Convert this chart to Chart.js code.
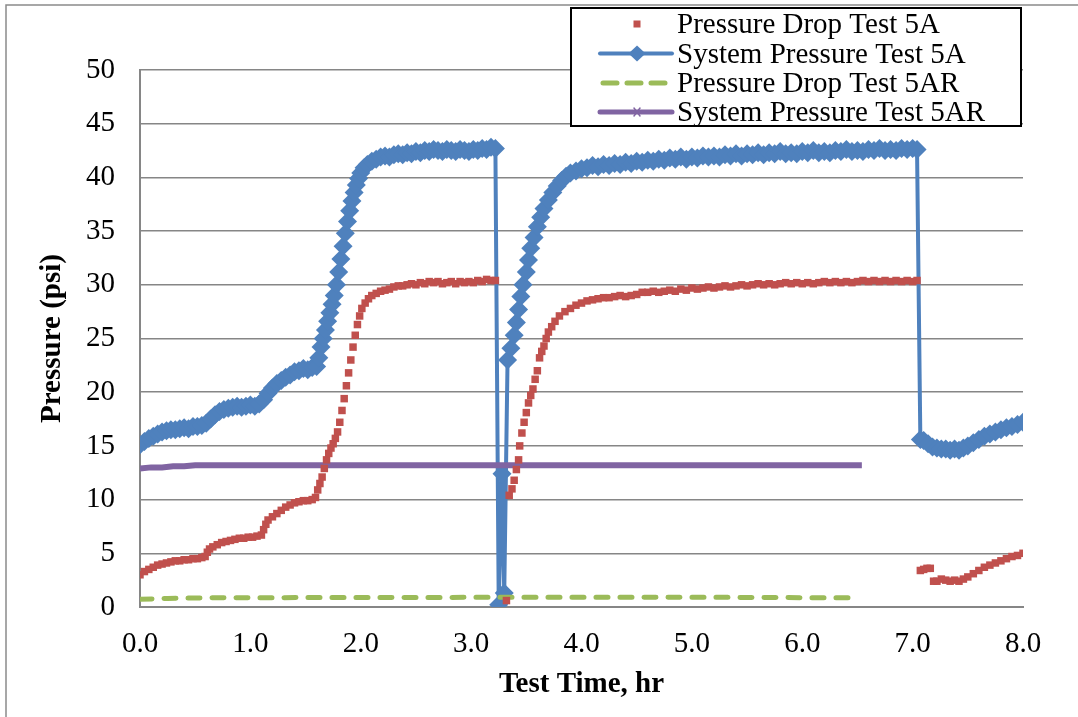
<!DOCTYPE html>
<html>
<head>
<meta charset="utf-8">
<script src="https://cdn.jsdelivr.net/npm/chart.js@4/dist/chart.umd.min.js"></script>
<style>
  html, body { margin: 0; padding: 0; background: #fff; }
  #wrap { position: relative; width: 1078px; height: 717px; }
</style>
</head>
<body>
<div id="wrap"><canvas id="c" width="1078" height="717"></canvas></div>
<script>
// ---------- DATA ----------
const seriesNames = ['Pressure Drop Test 5A', 'System Pressure Test 5A', 'Pressure Drop Test 5AR', 'System Pressure Test 5AR'];
const xTickLabels = ['0.0', '1.0', '2.0', '3.0', '4.0', '5.0', '6.0', '7.0', '8.0'];
const yTickLabels = ['0', '5', '10', '15', '20', '25', '30', '35', '40', '45', '50'];

// Pressure Drop Test 5A (psi) vs time (hr)
const pd5aTime = [
  0.00,0.04,0.08,0.12,0.16,0.20,0.24,0.28,0.32,0.36,0.40,0.44,0.48,0.52,0.56,0.59,0.61,0.63,0.66,0.70,
  0.74,0.78,0.82,0.86,0.90,0.94,0.98,1.02,1.06,1.10,1.12,1.14,1.16,1.20,1.24,1.28,1.32,1.36,1.40,1.44,
  1.48,1.52,1.56,1.59,1.61,1.63,1.65,1.67,1.69,1.71,1.73,1.75,1.77,1.79,1.81,1.83,1.85,1.87,1.89,1.91,
  1.93,1.95,1.97,1.99,2.01,2.04,2.07,2.10,2.14,2.18,2.22,2.26,2.30,2.34,2.38,2.42,2.46,2.50,2.54,2.58,
  2.62,2.66,2.70,2.74,2.78,2.82,2.86,2.90,2.94,2.98,3.02,3.06,3.10,3.14,3.18,3.22,
  3.32,
  3.345,3.37,3.39,3.41,3.43,3.44,3.46,3.48,3.50,3.52,3.54,3.56,3.58,3.60,3.62,3.64,3.66,3.68,3.70,3.73,
  3.76,3.80,3.85,3.90,3.95,4.00,4.05,4.10,4.15,4.20,4.25,4.30,4.35,4.40,4.45,4.50,4.55,4.60,4.65,4.70,
  4.75,4.80,4.85,4.90,4.95,5.00,5.05,5.10,5.15,5.20,5.25,5.30,5.35,5.40,5.45,5.50,5.55,5.60,5.65,5.70,
  5.75,5.80,5.85,5.90,5.95,6.00,6.05,6.10,6.15,6.20,6.25,6.30,6.35,6.40,6.45,6.50,6.55,6.60,6.65,6.70,
  6.75,6.80,6.85,6.90,6.95,7.00,7.04,
  7.07,7.10,7.13,7.16,
  7.19,7.22,7.26,7.30,7.34,7.38,7.42,7.46,7.50,7.55,7.60,7.65,7.70,7.75,7.80,7.85,7.90,7.95,8.00
];
const pd5aValue = [
  3.0,3.3,3.5,3.7,3.9,4.0,4.1,4.2,4.3,4.3,4.4,4.4,4.5,4.5,4.6,4.7,5.1,5.4,5.6,5.8,
  6.0,6.1,6.2,6.3,6.4,6.4,6.5,6.5,6.6,6.7,7.2,7.7,8.1,8.4,8.7,9.0,9.3,9.5,9.7,9.8,
  9.9,9.9,10.0,10.2,10.9,11.5,12.1,12.9,13.7,14.3,14.8,15.2,15.7,16.3,17.2,18.3,19.4,20.6,21.8,23.0,
  24.2,25.3,26.3,27.1,27.8,28.3,28.7,29.0,29.2,29.4,29.5,29.6,29.8,29.9,29.9,30.0,30.1,30.0,30.2,30.1,
  30.3,30.2,30.3,30.1,30.2,30.3,30.1,30.3,30.2,30.3,30.2,30.4,30.3,30.5,30.4,30.4,
  0.6,
  10.4,11.0,11.8,12.8,13.7,15.0,16.2,17.2,18.1,19.0,19.7,20.3,21.2,22.0,23.2,23.8,24.3,25.0,25.6,26.1,
  26.6,27.1,27.5,27.8,28.1,28.3,28.5,28.6,28.7,28.8,28.8,28.9,29.0,28.9,29.0,29.1,29.3,29.3,29.4,29.3,
  29.4,29.5,29.4,29.6,29.5,29.7,29.6,29.7,29.8,29.7,29.8,29.9,29.8,29.9,30.0,29.9,30.0,30.1,30.0,30.1,
  30.0,30.1,30.2,30.1,30.2,30.1,30.2,30.1,30.2,30.3,30.2,30.3,30.2,30.3,30.2,30.3,30.4,30.3,30.4,30.3,
  30.4,30.3,30.4,30.3,30.4,30.3,30.4,
  3.4,3.5,3.6,3.6,
  2.4,2.4,2.6,2.5,2.4,2.5,2.4,2.6,2.8,3.1,3.4,3.7,3.9,4.1,4.3,4.5,4.7,4.8,5.0
];

// System Pressure Test 5A (psi) vs time (hr)
const sp5aTime = [
  0.00,0.04,0.08,0.12,0.16,0.20,0.24,0.28,0.32,0.36,0.40,0.44,0.48,0.52,0.56,0.60,0.64,0.68,0.72,0.76,
  0.80,0.84,0.88,0.92,0.96,1.00,1.04,1.08,1.12,1.16,1.20,1.24,1.28,1.32,1.36,1.40,1.44,1.48,1.52,1.56,
  1.60,1.62,1.64,1.66,1.68,1.70,1.72,1.74,1.76,1.78,1.80,1.82,1.84,1.86,1.88,1.90,1.92,1.94,1.96,1.98,
  2.00,2.03,2.06,2.10,2.14,2.18,2.22,2.26,2.30,2.34,2.38,2.42,2.46,2.50,2.54,2.58,2.62,2.66,2.70,2.74,
  2.78,2.82,2.86,2.90,2.94,2.98,3.02,3.06,3.10,3.14,3.18,3.22,
  3.25,3.28,3.30,
  3.33,3.36,3.39,3.41,3.43,3.45,3.47,3.50,3.52,3.54,3.57,3.60,3.63,3.66,3.70,3.74,3.78,3.82,3.86,3.90,
  3.95,4.00,4.05,4.10,4.15,4.20,4.25,4.30,4.35,4.40,4.45,4.50,4.55,4.60,4.65,4.70,4.75,4.80,4.85,4.90,
  4.95,5.00,5.05,5.10,5.15,5.20,5.25,5.30,5.35,5.40,5.45,5.50,5.55,5.60,5.65,5.70,5.75,5.80,5.85,5.90,
  5.95,6.00,6.05,6.10,6.15,6.20,6.25,6.30,6.35,6.40,6.45,6.50,6.55,6.60,6.65,6.70,6.75,6.80,6.85,6.90,
  6.95,7.00,7.04,
  7.07,7.10,7.14,7.18,7.22,7.26,7.30,7.34,7.38,7.42,7.46,7.50,7.55,7.60,7.65,7.70,7.75,7.80,7.85,7.90,
  7.95,8.00
];
const sp5aValue = [
  15.1,15.4,15.7,15.9,16.1,16.3,16.4,16.5,16.5,16.6,16.7,16.6,16.8,16.8,16.9,17.1,17.5,17.9,18.2,18.4,
  18.5,18.6,18.7,18.6,18.7,18.8,18.7,18.9,19.3,19.9,20.4,20.8,21.1,21.4,21.6,21.9,22.0,22.2,22.1,22.3,
  22.4,23.2,24.2,25.0,25.8,26.6,27.4,28.2,29.0,30.0,31.2,32.4,33.6,34.8,35.9,36.9,37.8,38.6,39.3,39.9,
  40.4,40.9,41.2,41.5,41.7,41.9,42.0,41.9,42.1,42.2,42.1,42.3,42.2,42.4,42.3,42.5,42.4,42.6,42.5,42.4,
  42.6,42.5,42.4,42.6,42.5,42.4,42.6,42.5,42.7,42.6,42.8,42.7,
  0.2,12.4,1.3,
  23.0,24.1,25.3,26.5,27.7,28.9,30.0,31.2,32.3,33.4,34.4,35.4,36.3,37.1,37.9,38.6,39.2,39.7,40.1,40.4,
  40.6,40.8,40.9,41.1,41.0,41.2,41.1,41.3,41.2,41.4,41.3,41.5,41.4,41.6,41.5,41.7,41.6,41.8,41.7,41.9,
  41.7,41.9,41.8,42.0,41.9,42.0,41.9,42.1,42.0,42.2,42.0,42.2,42.1,42.3,42.1,42.3,42.2,42.4,42.2,42.3,
  42.2,42.4,42.3,42.5,42.3,42.4,42.3,42.5,42.4,42.6,42.4,42.5,42.4,42.6,42.5,42.7,42.5,42.6,42.5,42.7,
  42.6,42.7,42.6,
  15.6,15.5,15.2,14.9,14.8,14.7,14.7,14.6,14.7,14.6,14.8,15.0,15.3,15.6,15.9,16.1,16.3,16.5,16.7,16.8,
  17.0,17.2
];

// Pressure Drop Test 5AR (psi) vs time (hr)
const pd5arTime = [0.00,0.25,0.50,0.75,1.00,1.25,1.50,1.75,2.00,2.25,2.50,2.75,3.00,3.25,3.50,3.75,4.00,4.25,4.50,4.75,5.00,5.25,5.50,5.75,6.00,6.25,6.50];
const pd5arValue = [0.72,0.80,0.84,0.86,0.87,0.87,0.88,0.88,0.88,0.88,0.89,0.89,0.90,0.90,0.90,0.90,0.90,0.90,0.90,0.91,0.90,0.90,0.89,0.88,0.87,0.87,0.87];

// System Pressure Test 5AR (psi) vs time (hr)
const sp5arTime = [0.00,0.10,0.20,0.30,0.40,0.50,0.75,1.00,1.50,2.00,2.50,3.00,3.50,4.00,4.50,5.00,5.50,6.00,6.54];
const sp5arValue = [12.9,13.0,13.0,13.1,13.1,13.2,13.2,13.2,13.2,13.2,13.2,13.2,13.2,13.2,13.2,13.2,13.2,13.2,13.2];

// ---------- helpers ----------
function pts(t, v) { return t.map((x, i) => ({ x: x, y: v[i] })); }
const SERIF = "'Liberation Serif', 'Times New Roman', serif";
const FS = 29;
const GRID = '#868686';
const COLORS = ['#C0504D', '#4F81BD', '#9BBB59', '#8064A2'];

const bgPlugin = {
  id: 'bg',
  beforeDraw(chart) {
    const c = chart.ctx;
    c.save();
    c.fillStyle = '#fff';
    c.fillRect(0, 0, chart.width, chart.height);
    c.strokeStyle = '#8a8a8a';
    c.lineWidth = 1.5;
    c.strokeRect(6, 5, 1200, 800);
    c.restore();
  }
};

const legendPlugin = {
  id: 'boxLegend',
  afterDraw(chart) {
    const c = chart.ctx;
    const ds = chart.data.datasets;
    c.save();
    c.fillStyle = '#fff';
    c.fillRect(571, 8, 450, 118);
    c.strokeStyle = '#000';
    c.lineWidth = 2;
    c.strokeRect(571, 8, 450, 118);
    const baselines = [33, 62.5, 92, 121];
    const x0 = 600, x1 = 672, xm = 637;
    // row 1 - square marker
    let y = baselines[0] - 9;
    c.fillStyle = COLORS[0];
    c.fillRect(xm - 3.5, y - 3.5, 7, 7);
    // row 2 - line + diamond
    y = baselines[1] - 9;
    c.strokeStyle = COLORS[1]; c.lineWidth = 4; c.lineCap = 'round';
    c.beginPath(); c.moveTo(x0, y); c.lineTo(x1, y); c.stroke();
    c.fillStyle = COLORS[1];
    c.beginPath(); c.moveTo(xm - 8.5, y); c.lineTo(xm, y - 8); c.lineTo(xm + 8.5, y); c.lineTo(xm, y + 8); c.closePath(); c.fill();
    // row 3 - dashed
    y = baselines[2] - 9;
    c.strokeStyle = COLORS[2]; c.lineWidth = 5; c.lineCap = 'round';
    c.setLineDash([14, 10]);
    c.beginPath(); c.moveTo(x0 + 3, y); c.lineTo(x1, y); c.stroke();
    c.setLineDash([]);
    // row 4 - line + small cross
    y = baselines[3] - 9;
    c.strokeStyle = COLORS[3]; c.lineWidth = 5;
    c.beginPath(); c.moveTo(x0, y); c.lineTo(x1, y); c.stroke();
    c.lineWidth = 1.5;
    c.beginPath(); c.moveTo(xm - 3, y - 4); c.lineTo(xm + 3, y + 4); c.moveTo(xm + 3, y - 4); c.lineTo(xm - 3, y + 4); c.stroke();
    // texts
    c.fillStyle = '#000';
    c.font = FS + "px " + SERIF;
    c.textBaseline = 'alphabetic';
    c.textAlign = 'left';
    for (let i = 0; i < ds.length; i++) c.fillText(ds[i].label, 677, baselines[i]);
    c.restore();
  }
};

new Chart(document.getElementById('c'), {
  type: 'scatter',
  data: {
    datasets: [
      { label: seriesNames[0], data: pts(pd5aTime, pd5aValue), showLine: false,
        pointStyle: 'rect', pointRadius: 5.3, pointBackgroundColor: COLORS[0], pointBorderWidth: 0,
        borderColor: COLORS[0], backgroundColor: COLORS[0], order: 0 },
      { label: seriesNames[1], data: pts(sp5aTime, sp5aValue), showLine: true, borderColor: COLORS[1],
        borderWidth: 4, pointStyle: 'rectRot', pointRadius: 9.5, pointBackgroundColor: COLORS[1],
        pointBorderWidth: 0, backgroundColor: COLORS[1], order: 3 },
      { label: seriesNames[2], data: pts(pd5arTime, pd5arValue), showLine: true, borderColor: COLORS[2],
        borderWidth: 5, borderDash: [12, 12], borderCapStyle: 'round', pointRadius: 0, backgroundColor: COLORS[2], order: 1 },
      { label: seriesNames[3], data: pts(sp5arTime, sp5arValue), showLine: true, borderColor: COLORS[3],
        borderWidth: 6, pointRadius: 0, backgroundColor: COLORS[3], order: 2 }
    ]
  },
  options: {
    responsive: false,
    animation: false,
    devicePixelRatio: 1,
    layout: { padding: { left: 0, right: 55, top: 70, bottom: 0 } },
    plugins: { legend: { display: false }, tooltip: { enabled: false } },
    scales: {
      x: {
        type: 'linear', min: 0, max: 8,
        ticks: { stepSize: 1, maxRotation: 0, autoSkip: false, padding: 20, color: '#000',
                 font: { family: SERIF, size: FS },
                 callback: (v) => xTickLabels[Math.round(v)] },
        grid: { display: false, drawTicks: false },
        border: { display: true, color: GRID, width: 2 },
        title: { display: true, text: 'Test Time, hr', color: '#000',
                 font: { family: SERIF, size: FS, weight: 'bold' }, padding: { top: 0, bottom: 15 } },
        afterFit(s) { s.height = 110; }
      },
      y: {
        type: 'linear', min: 0, max: 50,
        ticks: { stepSize: 5, padding: 25, color: '#000', font: { family: SERIF, size: FS },
                 callback: (v) => yTickLabels[Math.round(v / 5)] },
        grid: { color: GRID, lineWidth: 1.5, drawTicks: false },
        border: { display: true, color: GRID, width: 2 },
        title: { display: true, text: 'Pressure (psi)', color: '#000',
                 font: { family: SERIF, size: FS, weight: 'bold' }, padding: { top: 35, bottom: 0 } },
        afterFit(s) { s.width = 140; }
      }
    }
  },
  plugins: [bgPlugin, legendPlugin]
});
</script>
</body>
</html>
